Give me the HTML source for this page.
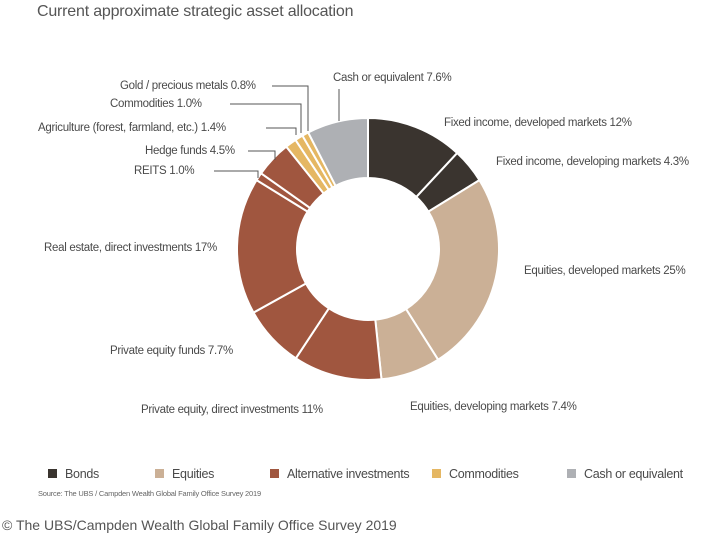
<!DOCTYPE html>
<html><head><meta charset="utf-8"><style>
body{margin:0;width:705px;height:550px;background:#fff;position:relative;overflow:hidden;font-family:"Liberation Sans",sans-serif;color:#4a4a4a}
.l{position:absolute;font-size:11.5px;letter-spacing:-0.3px;white-space:nowrap;line-height:14px}
.lg{position:absolute;top:467px;font-size:12.5px;letter-spacing:-0.3px;white-space:nowrap}
.lg i{display:inline-block;width:9px;height:9px;margin-right:8px;vertical-align:-0px}
</style></head><body>
<div style="position:absolute;left:37px;top:3px;font-size:16px;color:#555;letter-spacing:-0.2px">Current approximate strategic asset allocation</div>
<svg id="s" width="705" height="550" style="position:absolute;left:0;top:0">
<g fill="none" stroke="#555" stroke-width="1">
<polyline points="272,86 308,86 308,131"/>
<polyline points="230,104 301,104 301,133"/>
<polyline points="266,128 296,128 296,135"/>
<polyline points="248,151 275,151 275,160"/>
<polyline points="214,171 258,171 258,178"/>
<polyline points="339,89 339,121"/>
</g>
</svg>
<script>
var d=[[12,'#3a342f'],[4.3,'#3a342f'],[25,'#cbb096'],[7.4,'#cbb096'],[11,'#a0563f'],[7.7,'#a0563f'],[17,'#a0563f'],[1,'#a0563f'],[4.5,'#a0563f'],[1.4,'#e5b763'],[1,'#e5b763'],[0.8,'#e5b763'],[7.6,'#aeb0b4']];
var t=0;d.forEach(function(x){t+=x[0]});
var cx=368,cy=249,R=131,r=71,a=0,s=document.getElementById('s'),h='';
function p(ang,rad){return [cx+rad*Math.sin(ang),cy-rad*Math.cos(ang)]}
d.forEach(function(x){var b=a+x[0]/t*2*Math.PI,l=(b-a)>Math.PI?1:0;
var p1=p(a,R),p2=p(b,R),p3=p(b,r),p4=p(a,r);
h+='<path d="M'+p1+' A'+R+','+R+' 0 '+l+' 1 '+p2+' L'+p3+' A'+r+','+r+' 0 '+l+' 0 '+p4+'Z" fill="'+x[1]+'" stroke="#fff" stroke-width="2"/>';a=b;});
s.insertAdjacentHTML('afterbegin',h);
</script>
<div class="l" style="left:120px;top:79px">Gold / precious metals 0.8%</div>
<div class="l" style="left:110px;top:97px">Commodities 1.0%</div>
<div class="l" style="left:38px;top:121px">Agriculture (forest, farmland, etc.) 1.4%</div>
<div class="l" style="left:145px;top:144px">Hedge funds 4.5%</div>
<div class="l" style="left:134px;top:164px">REITS 1.0%</div>
<div class="l" style="left:333px;top:71px">Cash or equivalent 7.6%</div>
<div class="l" style="left:444px;top:116px">Fixed income, developed markets 12%</div>
<div class="l" style="left:496px;top:155px">Fixed income, developing markets 4.3%</div>
<div class="l" style="left:524px;top:264px">Equities, developed markets 25%</div>
<div class="l" style="left:410px;top:400px">Equities, developing markets 7.4%</div>
<div class="l" style="left:141px;top:403px">Private equity, direct investments 11%</div>
<div class="l" style="left:110px;top:344px">Private equity funds 7.7%</div>
<div class="l" style="left:44px;top:241px">Real estate, direct investments 17%</div>
<div class="lg" style="left:48px"><i style="background:#3a342f"></i>Bonds</div>
<div class="lg" style="left:155px"><i style="background:#cbb096"></i>Equities</div>
<div class="lg" style="left:270px"><i style="background:#a0563f"></i>Alternative investments</div>
<div class="lg" style="left:432px"><i style="background:#e5b763"></i>Commodities</div>
<div class="lg" style="left:567px"><i style="background:#aeb0b4"></i>Cash or equivalent</div>
<div style="position:absolute;left:38px;top:489px;font-size:7.5px;color:#666;letter-spacing:-0.2px">Source: The UBS / Campden Wealth Global Family Office Survey 2019</div>
<div style="position:absolute;left:2px;top:517px;font-size:14px;color:#555">© The UBS/Campden Wealth Global Family Office Survey 2019</div>
</body></html>
